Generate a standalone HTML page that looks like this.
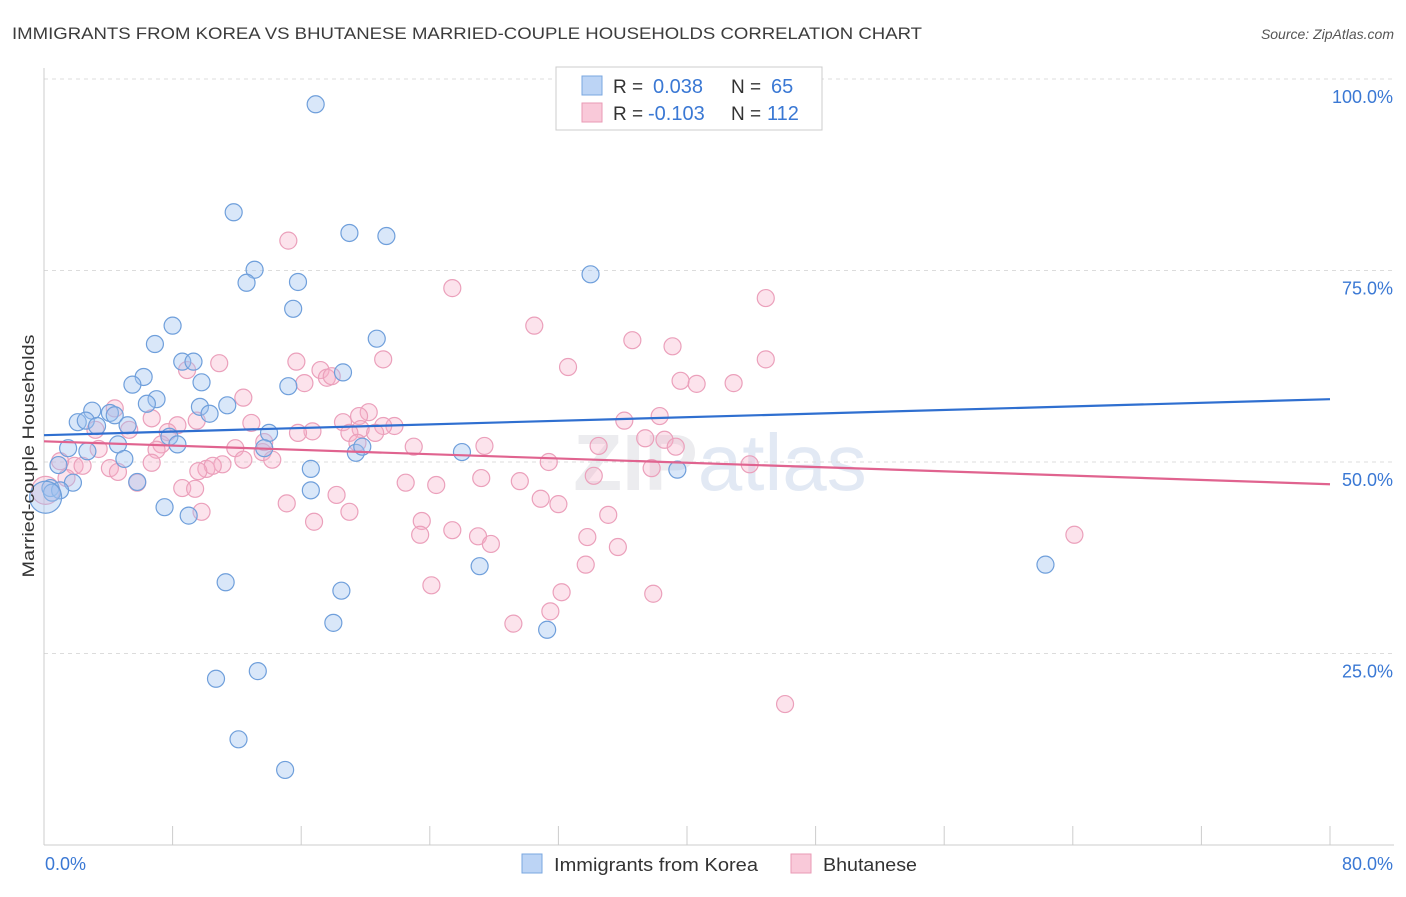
<!DOCTYPE html>
<html><head><meta charset="utf-8"><style>
body{margin:0;background:#fff;font-family:"Liberation Sans",sans-serif;}
svg text{font-family:"Liberation Sans",sans-serif;}
</style></head><body>
<svg id="chart" width="1406" height="892" xmlns="http://www.w3.org/2000/svg">
<text x="12" y="39" font-size="17" fill="#3c3c3c" textLength="910" lengthAdjust="spacingAndGlyphs">IMMIGRANTS FROM KOREA VS BHUTANESE MARRIED-COUPLE HOUSEHOLDS CORRELATION CHART</text>
<text x="1394" y="39" font-size="14" fill="#555" text-anchor="end" font-style="italic">Source: ZipAtlas.com</text>
<text x="720" y="490" font-size="80" fill="#ececef" text-anchor="middle" font-weight="bold">ZIP<tspan fill="#e2e9f4" font-weight="normal">atlas</tspan></text>
<g id="grid"></g>
<g id="axes"></g>
<g id="pink"></g>
<g id="blue"></g>
<g id="trends"></g>
<text transform="translate(34,456) rotate(-90)" font-size="17" fill="#333" text-anchor="middle" textLength="243" lengthAdjust="spacingAndGlyphs">Married-couple Households</text>
<g>
<rect x="556" y="67" width="266" height="63" fill="#fff" stroke="#ccc"/>
<rect x="582" y="76" width="20" height="19" fill="#bcd4f5" stroke="#7aa7e0"/>
<rect x="582" y="103" width="20" height="19" fill="#f9c9d9" stroke="#e99ab5"/>
<text x="613" y="93" font-size="19" fill="#333">R =</text>
<text x="653" y="93" font-size="20" fill="#3a78d4">0.038</text>
<text x="731" y="93" font-size="19" fill="#333">N =</text>
<text x="771" y="93" font-size="20" fill="#3a78d4">65</text>
<text x="613" y="120" font-size="19" fill="#333">R =</text>
<text x="648" y="120" font-size="20" fill="#3a78d4">-0.103</text>
<text x="731" y="120" font-size="19" fill="#333">N =</text>
<text x="767" y="120" font-size="20" fill="#3a78d4">112</text>
</g>
<g>
<rect x="522" y="854" width="20" height="19" fill="#bcd4f5" stroke="#7aa7e0"/>
<text x="554" y="871" font-size="18" fill="#333" textLength="204" lengthAdjust="spacingAndGlyphs">Immigrants from Korea</text>
<rect x="791" y="854" width="20" height="19" fill="#f9c9d9" stroke="#e99ab5"/>
<text x="823" y="871" font-size="18" fill="#333" textLength="94" lengthAdjust="spacingAndGlyphs">Bhutanese</text>
</g>
</svg>
<script>
const koreaX=[16.9,11.8,19.0,21.3,13.1,15.8,12.6,34.0,15.5,8.0,20.7,6.9,8.6,9.3,18.6,6.2,9.8,5.5,15.2,7.0,6.4,9.7,11.4,10.3,3.0,4.1,4.4,2.1,2.6,3.3,5.2,7.8,14.0,8.3,4.6,1.5,2.7,19.4,19.8,26.0,13.7,0.9,5.0,39.4,16.6,0.4,1.8,5.8,16.6,7.5,9.0,11.3,18.5,27.1,62.3,18.0,31.3,13.3,10.7,12.1,15.0,1.0,0.5,0.1];
const koreaY=[96.7,82.6,79.9,79.5,75.1,73.5,73.4,74.5,70.0,67.8,66.1,65.4,63.1,63.1,61.7,61.1,60.4,60.1,59.9,58.2,57.6,57.2,57.4,56.3,56.7,56.4,56.1,55.2,55.4,54.7,54.8,53.3,53.8,52.3,52.3,51.8,51.4,51.2,52.0,51.3,51.8,49.6,50.4,49.0,49.1,46.6,47.3,47.4,46.3,44.1,43.0,34.3,33.2,36.4,36.6,29.0,28.1,22.7,21.7,13.8,9.8,46.3,46.0,45.4];
const bhutX=[15.2,25.4,30.5,44.9,36.6,39.1,32.6,44.9,10.9,15.7,21.1,8.9,17.2,39.6,40.6,42.9,16.2,17.6,17.9,12.4,20.2,4.4,6.7,9.5,12.9,18.6,19.6,19.7,21.8,21.1,36.1,38.3,3.2,5.3,8.3,16.7,15.8,19.0,20.6,7.7,37.4,38.6,39.3,34.5,23.0,27.4,7.3,7.0,3.4,11.9,13.6,13.7,19.5,12.4,14.2,10.1,1.9,2.4,4.1,6.7,4.6,11.1,10.5,9.6,31.4,34.2,37.8,43.9,1.0,1.4,5.8,8.6,9.4,15.1,18.2,22.5,24.4,27.2,29.6,30.9,32.0,19.0,9.8,16.8,23.5,23.4,25.4,27.0,27.8,33.8,35.1,35.7,64.1,33.7,32.2,24.1,37.9,31.5,29.2,46.1,0.1];
const bhutY=[78.9,72.7,67.8,71.4,65.9,65.1,62.4,63.4,62.9,63.1,63.4,62.0,62.0,60.6,60.2,60.3,60.3,61.0,61.2,58.4,56.5,57.0,55.7,55.4,55.1,55.2,56.0,54.3,54.7,54.7,55.4,56.0,54.2,54.2,54.8,54.0,53.8,53.8,53.8,53.9,53.1,52.9,52.0,52.1,52.0,52.1,52.3,51.6,51.7,51.8,51.3,52.6,52.5,50.3,50.3,49.1,49.5,49.5,49.2,49.9,48.7,49.7,49.5,48.8,50.0,48.2,49.2,49.7,50.1,47.9,47.3,46.6,46.5,44.6,45.7,47.3,47.0,47.9,47.5,45.2,44.5,43.5,43.5,42.2,42.3,40.5,41.1,40.3,39.3,40.2,43.1,38.9,40.5,36.6,33.0,33.9,32.8,30.5,28.9,18.4,46.3];
const trendKorea=[53.5,58.2];
const trendBhut=[52.7,47.1];
const yTicks=[25,50,75,100];
const yTickLabels=["25.0%","50.0%","75.0%","100.0%"];
const xTicks=[0,8,16,24,32,40,48,56,64,72,80];
const xTickLabels=["0.0%","80.0%"];

const NS="http://www.w3.org/2000/svg";
const X0=44,X1=1330,YB=845,YT=79;
function sx(v){return X0+(v/80)*(X1-X0);}
function sy(v){return YB-(v/100)*(YB-YT);}
function mk(tag,attrs,parent){const e=document.createElementNS(NS,tag);for(const k in attrs)e.setAttribute(k,attrs[k]);parent.appendChild(e);return e;}
const grid=document.getElementById('grid'),axes=document.getElementById('axes');
yTicks.forEach((t,i)=>{
  const l=mk('line',{x1:X0,x2:1394,y1:sy(t),y2:sy(t),stroke:'#dcdcdc','stroke-dasharray':'4,4'},grid);
  
  
  const tx=mk('text',{x:1393,y:sy(t)+24,'font-size':18,fill:'#3a78d4','text-anchor':'end'},axes);
  tx.textContent=yTickLabels[i];
  
  
});
const ax=mk('line',{x1:X0,x2:X0,y1:68,y2:YB,stroke:'#ccc'},axes);


const bx=mk('line',{x1:X0,x2:1394,y1:YB,y2:YB,stroke:'#ccc'},axes);


xTicks.forEach(t=>{
  const l=mk('line',{x1:sx(t),x2:sx(t),y1:YB,y2:YB-19,stroke:'#ccc'},axes);
  
  
});
const xl0=mk('text',{x:45,y:870,'font-size':18,fill:'#3a78d4'},axes);xl0.textContent=xTickLabels[0];


const xl1=mk('text',{x:1393,y:870,'font-size':18,fill:'#3a78d4','text-anchor':'end'},axes);xl1.textContent=xTickLabels[1];



const pink=document.getElementById('pink');
bhutX.forEach((x,i)=>{
  const r=(i===bhutX.length-1)?14:8.5;
  const c=mk('circle',{cx:sx(x),cy:sy(bhutY[i]),r:r,fill:'rgba(246,175,200,0.35)',stroke:'#eba0bb','stroke-width':1.2},pink);
  
  
});
const blue=document.getElementById('blue');
koreaX.forEach((x,i)=>{
  const r=(i===koreaX.length-1)?16:8.5;
  const c=mk('circle',{cx:sx(x),cy:sy(koreaY[i]),r:r,fill:'rgba(160,195,240,0.4)',stroke:'#6f9fdb','stroke-width':1.2},blue);
  
  
});
const tr=document.getElementById('trends');
const tb=mk('line',{x1:sx(0),y1:sy(trendKorea[0]),x2:sx(80),y2:sy(trendKorea[1]),stroke:'#2f6fd0','stroke-width':2.2},tr);


const tp=mk('line',{x1:sx(0),y1:sy(trendBhut[0]),x2:sx(80),y2:sy(trendBhut[1]),stroke:'#e0638f','stroke-width':2.2},tr);


</script>
</body></html>
